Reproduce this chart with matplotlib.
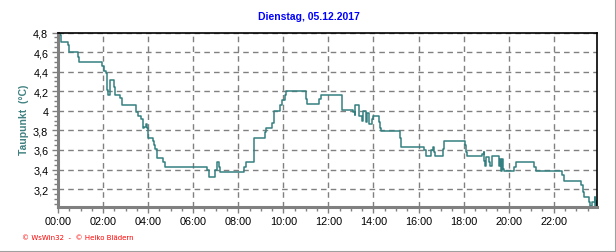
import matplotlib.pyplot as plt
from matplotlib.ticker import MultipleLocator, FuncFormatter
from matplotlib.lines import Line2D

# Taupunkt am 05.12.2017, Stufen (Stunde, Wert in °C)
hours = [0.00, 0.09, 0.15, 0.44, 0.50, 0.89, 0.95, 1.94, 2.04, 2.12,
         2.19, 2.24, 2.30, 2.50, 2.55, 2.77, 2.86, 3.45, 3.56, 3.67,
         3.75, 3.82, 3.90, 3.97, 4.01, 4.21, 4.25, 4.31, 4.41, 4.68,
         4.76, 6.61, 6.68, 6.98, 7.04, 7.13, 7.21, 8.24, 8.34, 8.72,
         9.18, 9.25, 9.48, 9.60, 9.85, 9.93, 10.06, 10.13, 10.99, 11.06,
         11.57, 11.65, 12.59, 13.11, 13.16, 13.20, 13.38, 13.47, 13.52, 13.69,
         13.72, 13.80, 13.93, 13.97, 14.24, 14.31, 14.34, 15.19, 15.23, 16.24,
         16.31, 16.56, 16.62, 16.67, 16.71, 17.09, 17.13, 18.04, 18.12, 18.15,
         18.83, 18.89, 18.92, 18.96, 19.01, 19.13, 19.18, 19.25, 19.56, 19.62,
         19.65, 19.67, 19.70, 19.75, 19.79, 20.24, 20.31, 21.12, 21.20, 22.36,
         22.46, 23.20, 23.28, 23.33, 23.57, 23.62, 23.70, 23.81, 23.84, 23.88,
         23.91]
taupunkt = [4.80, 4.77, 4.70, 4.67, 4.60, 4.55, 4.50, 4.46, 4.41, 4.39,
            4.21, 4.16, 4.31, 4.24, 4.16, 4.13, 4.06, 3.99, 3.95, 3.92,
            3.82, 3.83, 3.86, 3.82, 3.72, 3.69, 3.65, 3.61, 3.52, 3.48,
            3.43, 3.40, 3.32, 3.40, 3.48, 3.43, 3.37, 3.43, 3.48, 3.72,
            3.78, 3.82, 3.88, 4.00, 4.06, 4.11, 4.16, 4.20, 4.12, 4.07,
            4.12, 4.16, 4.01, 3.99, 3.96, 4.06, 3.95, 3.90, 4.00, 3.89,
            3.98, 3.86, 3.92, 3.95, 3.89, 3.82, 3.79, 3.72, 3.63, 3.60,
            3.54, 3.60, 3.63, 3.58, 3.54, 3.61, 3.69, 3.65, 3.58, 3.54,
            3.56, 3.58, 3.49, 3.44, 3.53, 3.48, 3.44, 3.54, 3.44, 3.51,
            3.43, 3.38, 3.51, 3.41, 3.38, 3.43, 3.48, 3.43, 3.38, 3.34,
            3.28, 3.24, 3.17, 3.12, 3.07, 3.03, 3.07, 3.12, 3.03, 3.08,
            3.03]
x_labels = ['00:00', '02:00', '04:00', '06:00', '08:00', '10:00',
            '12:00', '14:00', '16:00', '18:00', '20:00', '22:00']

plt.rcParams['font.family'] = ['Liberation Sans', 'DejaVu Sans']

fig = plt.figure(figsize=(6.16, 2.53), dpi=100)
ax = fig.add_axes([58 / 616, 1 - 207.7 / 253, (597 - 58) / 616, (207.7 - 33.5) / 253])

ax.step(hours, taupunkt, where='post', color='#348080', linewidth=1.1)

ax.set_xlim(0, 23.92)
ax.set_ylim(3.02, 4.8)

ax.set_xticks([2 * i for i in range(len(x_labels))])
ax.set_xticklabels(x_labels)
ax.xaxis.set_minor_locator(MultipleLocator(0.5))
ax.yaxis.set_major_locator(MultipleLocator(0.2))
ax.yaxis.set_minor_locator(MultipleLocator(0.05))
ax.yaxis.set_major_formatter(FuncFormatter(
    lambda v, p: ('%.1f' % v).rstrip('0').rstrip('.').replace('.', ',')))

ax.grid(True, which='major', color='#808080', linestyle=(0, (4, 3)), linewidth=1)
ax.tick_params(axis='both', which='major', labelsize=7.8, length=4, width=1,
               color='#808080', pad=3)
ax.tick_params(axis='both', which='minor', length=3, width=1, color='#808080')

for side in ['left', 'bottom']:
    ax.spines[side].set_color('#808080')
    ax.spines[side].set_linewidth(2.2)
for side in ['top', 'right']:
    ax.spines[side].set_color('black')
    ax.spines[side].set_linewidth(1.2)

fig.text(309 / 616, 1 - 17 / 253, 'Dienstag, 05.12.2017', color='#0000ff',
         fontsize=7.5, fontweight='bold', ha='center', va='center')
fig.text(24 / 616, 1 - 120 / 253, 'Taupunkt  (°C)', color='#408080',
         fontsize=7.5, fontweight='bold', rotation=90, ha='center', va='center')
fig.text(22 / 616, 1 - 238 / 253, '© WsWin32  -  © Heiko Blädern', color='#ff0000',
         fontsize=5, ha='left', va='center', family=['DejaVu Sans'])

# grauer Rahmen rechts und unten
fig.add_artist(Line2D([0, 1], [0.5 / 253, 0.5 / 253], color='#a0a0a0', linewidth=1.5,
                      transform=fig.transFigure))
fig.add_artist(Line2D([615.5 / 616, 615.5 / 616], [0, 1], color='#a0a0a0', linewidth=1.5,
                      transform=fig.transFigure))

fig.savefig('out.png', dpi=100)
